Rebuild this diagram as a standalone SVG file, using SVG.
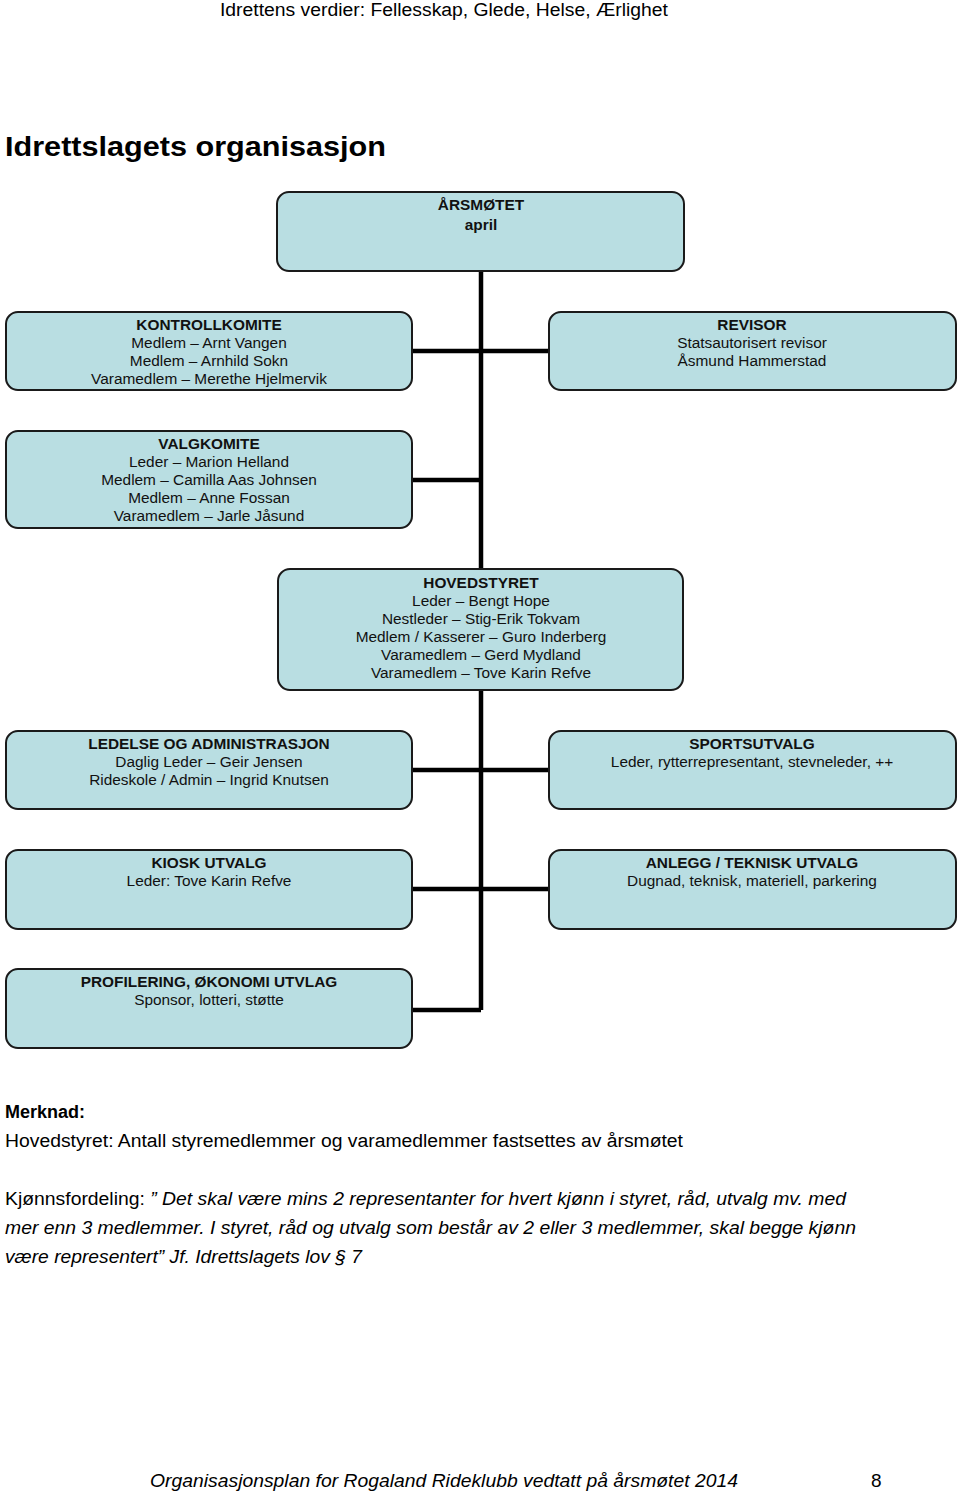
<svg xmlns="http://www.w3.org/2000/svg" width="960" height="1491" viewBox="0 0 960 1491">
<style>
.box{fill:#b9dee2;stroke:#1a1a1a;stroke-width:2}
.t{font-family:"Liberation Sans",Arial,sans-serif;font-size:15.4px;fill:#111;text-anchor:middle}
.b{font-weight:bold}
.c{stroke:#000;stroke-width:4.5;fill:none}
.p{font-family:"Liberation Sans",Arial,sans-serif;fill:#000}
</style>
<rect width="960" height="1491" fill="#fff"/>
<text class="p" x="220" y="16" font-size="18" fill="#111" textLength="448" lengthAdjust="spacingAndGlyphs">Idrettens verdier: Fellesskap, Glede, Helse, Ærlighet</text>
<text class="p" x="5" y="156" font-size="28" font-weight="bold" textLength="381" lengthAdjust="spacingAndGlyphs">Idrettslagets organisasjon</text>
<g id="connectors">
<path class="c" d="M481 271V569M412 351H549M412 480H481M481 690V1010M412 770H549M412 889H549M412 1010H481"/>
</g>
<g id="arsmotet">
<rect class="box" x="277" y="192" width="407" height="79" rx="12"/>
<text class="t b" x="481" y="210">ÅRSMØTET</text>
<text class="t b" x="481" y="230">april</text>
</g>
<g id="kontrollkomite">
<rect class="box" x="6" y="312" width="406" height="78" rx="12"/>
<text class="t b" x="209" y="330">KONTROLLKOMITE</text>
<text class="t" x="209" y="348">Medlem – Arnt Vangen</text>
<text class="t" x="209" y="366">Medlem – Arnhild Sokn</text>
<text class="t" x="209" y="384">Varamedlem – Merethe Hjelmervik</text>
</g>
<g id="revisor">
<rect class="box" x="549" y="312" width="407" height="78" rx="12"/>
<text class="t b" x="752" y="330">REVISOR</text>
<text class="t" x="752" y="348">Statsautorisert revisor</text>
<text class="t" x="752" y="366">Åsmund Hammerstad</text>
</g>
<g id="valgkomite">
<rect class="box" x="6" y="431" width="406" height="97" rx="12"/>
<text class="t b" x="209" y="449">VALGKOMITE</text>
<text class="t" x="209" y="467">Leder – Marion Helland</text>
<text class="t" x="209" y="485">Medlem – Camilla Aas Johnsen</text>
<text class="t" x="209" y="503">Medlem – Anne Fossan</text>
<text class="t" x="209" y="521">Varamedlem – Jarle Jåsund</text>
</g>
<g id="hovedstyret">
<rect class="box" x="278" y="569" width="405" height="121" rx="12"/>
<text class="t b" x="481" y="588">HOVEDSTYRET</text>
<text class="t" x="481" y="606">Leder – Bengt Hope</text>
<text class="t" x="481" y="624">Nestleder – Stig-Erik Tokvam</text>
<text class="t" x="481" y="642">Medlem / Kasserer – Guro Inderberg</text>
<text class="t" x="481" y="660">Varamedlem – Gerd Mydland</text>
<text class="t" x="481" y="678">Varamedlem – Tove Karin Refve</text>
</g>
<g id="ledelse">
<rect class="box" x="6" y="731" width="406" height="78" rx="12"/>
<text class="t b" x="209" y="749">LEDELSE OG ADMINISTRASJON</text>
<text class="t" x="209" y="767">Daglig Leder – Geir Jensen</text>
<text class="t" x="209" y="785">Rideskole / Admin – Ingrid Knutsen</text>
</g>
<g id="sportsutvalg">
<rect class="box" x="549" y="731" width="407" height="78" rx="12"/>
<text class="t b" x="752" y="749">SPORTSUTVALG</text>
<text class="t" x="752" y="767">Leder, rytterrepresentant, stevneleder, ++</text>
</g>
<g id="kiosk">
<rect class="box" x="6" y="850" width="406" height="79" rx="12"/>
<text class="t b" x="209" y="868">KIOSK UTVALG</text>
<text class="t" x="209" y="886">Leder: Tove Karin Refve</text>
</g>
<g id="anlegg">
<rect class="box" x="549" y="850" width="407" height="79" rx="12"/>
<text class="t b" x="752" y="868">ANLEGG / TEKNISK UTVALG</text>
<text class="t" x="752" y="886">Dugnad, teknisk, materiell, parkering</text>
</g>
<g id="profilering">
<rect class="box" x="6" y="969" width="406" height="79" rx="12"/>
<text class="t b" x="209" y="987">PROFILERING, ØKONOMI UTVLAG</text>
<text class="t" x="209" y="1005">Sponsor, lotteri, støtte</text>
</g>
<text class="p" x="5" y="1118" font-size="18" font-weight="bold">Merknad:</text>
<text class="p" x="5" y="1147" font-size="18" textLength="678" lengthAdjust="spacingAndGlyphs">Hovedstyret: Antall styremedlemmer og varamedlemmer fastsettes av årsmøtet</text>
<text class="p" x="5" y="1205" font-size="18" textLength="841" lengthAdjust="spacingAndGlyphs">Kjønnsfordeling: <tspan font-style="italic">” Det skal være mins 2 representanter for hvert kjønn i styret, råd, utvalg mv. med</tspan></text>
<text class="p" x="5" y="1234" font-size="18" font-style="italic" textLength="851" lengthAdjust="spacingAndGlyphs">mer enn 3 medlemmer. I styret, råd og utvalg som består av 2 eller 3 medlemmer, skal begge kjønn</text>
<text class="p" x="5" y="1263" font-size="18" font-style="italic" textLength="357" lengthAdjust="spacingAndGlyphs">være representert” Jf. Idrettslagets lov § 7</text>
<text class="p" x="150" y="1487" font-size="19" font-style="italic" textLength="588" lengthAdjust="spacingAndGlyphs">Organisasjonsplan for Rogaland Rideklubb vedtatt på årsmøtet 2014</text>
<text class="p" x="871" y="1487" font-size="19">8</text>
</svg>
